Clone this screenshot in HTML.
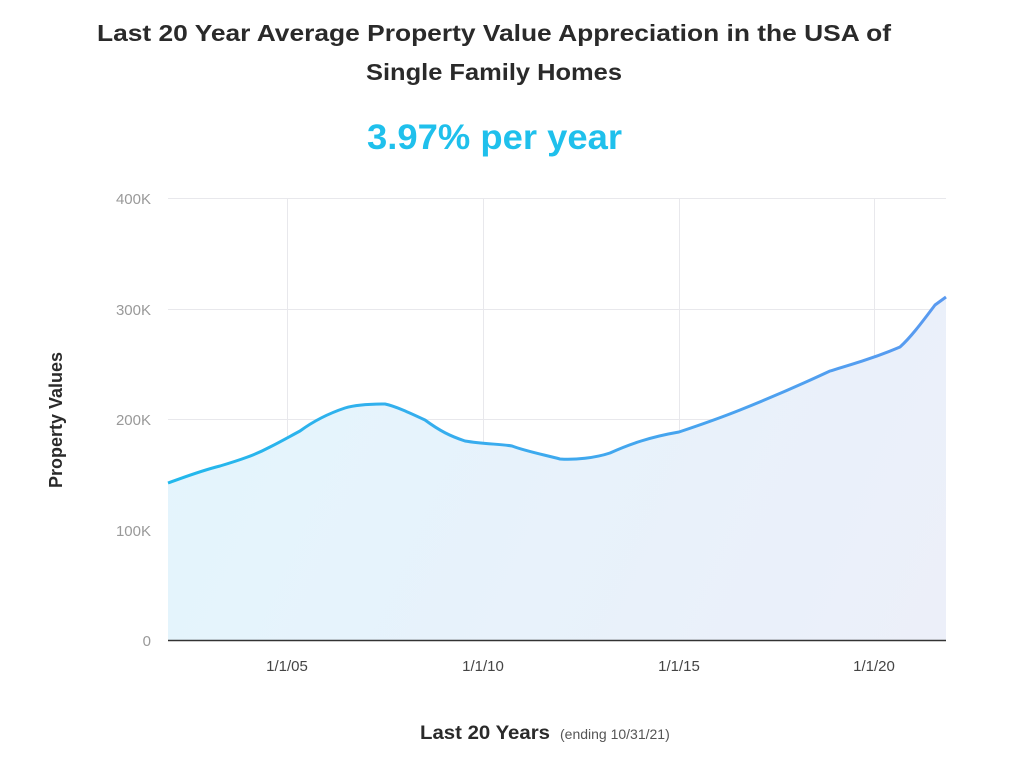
<!DOCTYPE html>
<html><head><meta charset="utf-8"><style>
body{margin:0;background:#fff;width:1024px;height:763px;overflow:hidden;font-family:"Liberation Sans",sans-serif}
</style></head><body>
<svg width="1024" height="763" xmlns="http://www.w3.org/2000/svg" font-family="Liberation Sans, sans-serif">
<defs>
<linearGradient id="ln" x1="168" y1="0" x2="946" y2="0" gradientUnits="userSpaceOnUse">
<stop offset="0" stop-color="#22b8ec"/><stop offset="1" stop-color="#5a9af0"/></linearGradient>
<linearGradient id="fl" x1="168" y1="300" x2="946" y2="640" gradientUnits="userSpaceOnUse">
<stop offset="0" stop-color="#e3f5fd"/><stop offset="1" stop-color="#eceff9"/></linearGradient>
</defs>
<text x="97" y="41" font-size="23" font-weight="bold" fill="#2a2a2a" textLength="794" lengthAdjust="spacingAndGlyphs">Last 20 Year Average Property Value Appreciation in the USA of</text>
<text x="366" y="80" font-size="23" font-weight="bold" fill="#2a2a2a" textLength="256" lengthAdjust="spacingAndGlyphs">Single Family Homes</text>
<text x="367" y="149" font-size="35" font-weight="bold" fill="#1fc0ec" textLength="255" lengthAdjust="spacingAndGlyphs">3.97% per year</text>
<g stroke="#e8e8ec" stroke-width="1">
<line x1="168" y1="198.5" x2="946" y2="198.5"/><line x1="168" y1="309.5" x2="946" y2="309.5"/>
<line x1="168" y1="419.5" x2="946" y2="419.5"/><line x1="168" y1="530.5" x2="946" y2="530.5"/>
<line x1="287.5" y1="198" x2="287.5" y2="640"/><line x1="483.5" y1="198" x2="483.5" y2="640"/>
<line x1="679.5" y1="198" x2="679.5" y2="640"/><line x1="874.5" y1="198" x2="874.5" y2="640"/>
</g>
<path fill="url(#fl)" d="M168,483 C185,477 200,471 220,466 C240,460 255,455 270,447 C280,442 287,438 300,431 C315,420 330,413 345,408 C355,405 370,404 385,404 C395,406 410,413 425,420 C440,431 450,436 465,441 C483,444 500,444 512,446 C525,451 545,455 560,459 C575,460 595,458 610,453 C630,444 650,437 679,432 C700,425 720,418 740,410 C770,398 800,385 830,371 C850,365 874,358 900,347 C910,338 920,325 935,305 L946,297 L946,640 L168,640 Z"/>
<path fill="none" stroke="url(#ln)" stroke-width="3" d="M168,483 C185,477 200,471 220,466 C240,460 255,455 270,447 C280,442 287,438 300,431 C315,420 330,413 345,408 C355,405 370,404 385,404 C395,406 410,413 425,420 C440,431 450,436 465,441 C483,444 500,444 512,446 C525,451 545,455 560,459 C575,460 595,458 610,453 C630,444 650,437 679,432 C700,425 720,418 740,410 C770,398 800,385 830,371 C850,365 874,358 900,347 C910,338 920,325 935,305 L946,297"/>
<line x1="168" y1="640.5" x2="946" y2="640.5" stroke="#333" stroke-width="1.5"/>
<g font-size="15" fill="#999" text-anchor="end">
<text x="151" y="204">400K</text><text x="151" y="315">300K</text><text x="151" y="425">200K</text>
<text x="151" y="536">100K</text><text x="151" y="646">0</text></g>
<g font-size="15" fill="#444" text-anchor="middle">
<text x="287" y="671">1/1/05</text><text x="483" y="671">1/1/10</text><text x="679" y="671">1/1/15</text><text x="874" y="671">1/1/20</text></g>
<text transform="translate(62,420) rotate(-90)" text-anchor="middle" font-size="18" font-weight="bold" fill="#2a2a2a">Property Values</text>
<text x="420" y="739" font-size="19" font-weight="bold" fill="#2a2a2a" textLength="130" lengthAdjust="spacingAndGlyphs">Last 20 Years</text>
<text x="560" y="739" font-size="14" fill="#555">(ending 10/31/21)</text>
</svg>
</body></html>
